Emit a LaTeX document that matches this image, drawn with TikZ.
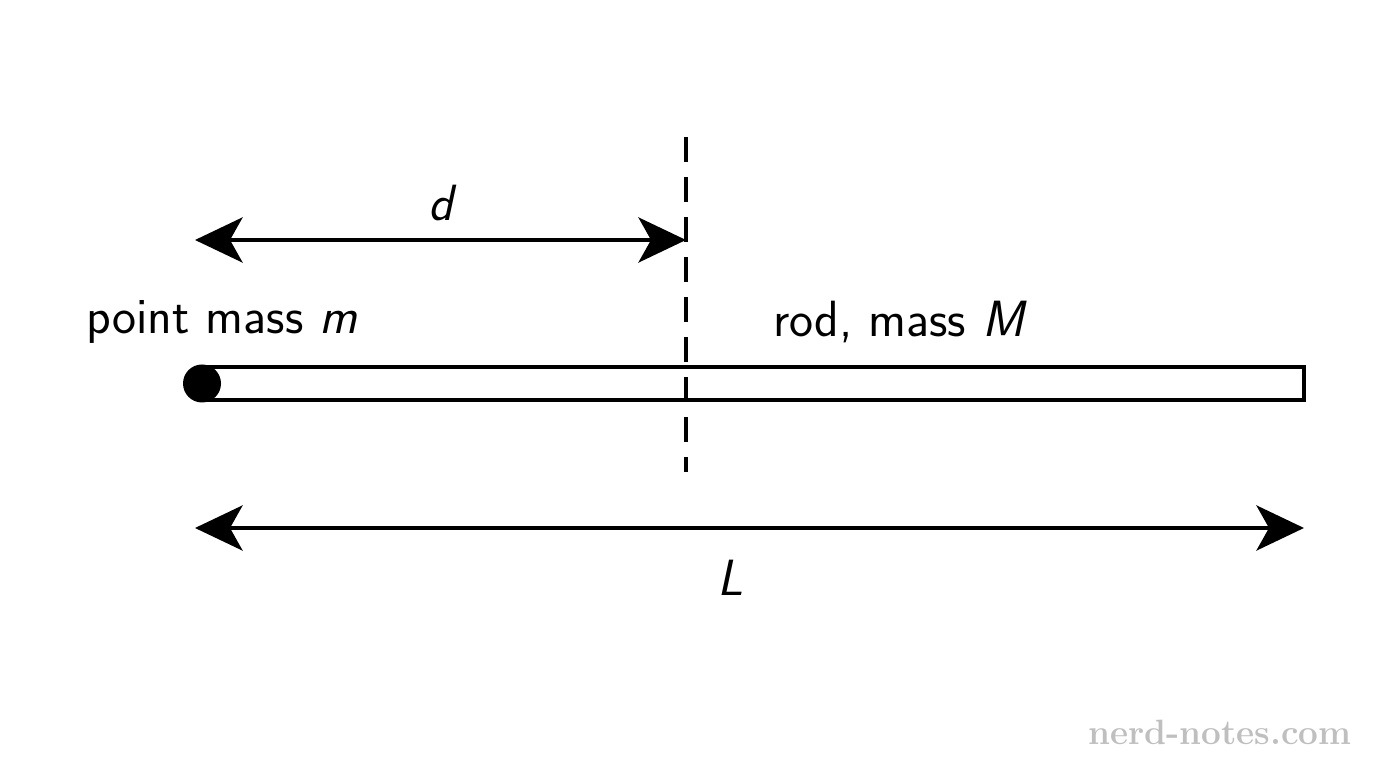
\documentclass[tikz,border=0pt]{standalone}
\usetikzlibrary{arrows.meta}
\begin{document}
\begin{tikzpicture}[
    every node/.style={font=\fontsize{29}{34}\selectfont\sffamily},
    dim/.style={{Stealth[length=0.95cm,width=0.9cm,inset=0.25cm]}-{Stealth[length=0.95cm,width=0.9cm,inset=0.25cm]}, line width=2.6pt}
  ]
    \useasboundingbox (0,0) rectangle (27.52,15.36);

    \path
    (4.04,7.36) coordinate (rodA)
    (26.08,8.02) coordinate (rodB)
    (4.04,7.69) coordinate (mass)
    (13.72,12.62) coordinate (axisTop)
    (13.72,5.92) coordinate (axisBot)
    (3.9,10.56) coordinate (dA)
    (13.72,10.56) coordinate (dB)
    (3.9,4.8) coordinate (LA)
    (26.08,4.8) coordinate (LB);

    \draw[line width=2.6pt] (rodA) rectangle (rodB);
    \fill (mass) circle (0.38);

    \draw[line width=2.6pt, dash pattern=on 0.5cm off 0.3cm] (axisTop) -- (axisBot);

    \draw[dim] (dA) -- (dB);
    \draw[dim] (LA) -- (LB);

    \node (dlabel) at (8.86,11.3) {\textit{d}};
    \node (Llabel) at (14.6,3.8) {\textit{L}};
    \node (masslabel) at (4.44,8.92) {point mass \textit{m}};
    \node (rodlabel) at (18.0,8.92) {rod, mass \textit{M}};

    \node[font=\fontsize{20}{24}\selectfont\rmfamily\bfseries, text=black!25] (mark) at (24.4,0.72) {nerd-notes.com};
  \end{tikzpicture}
\end{document}
